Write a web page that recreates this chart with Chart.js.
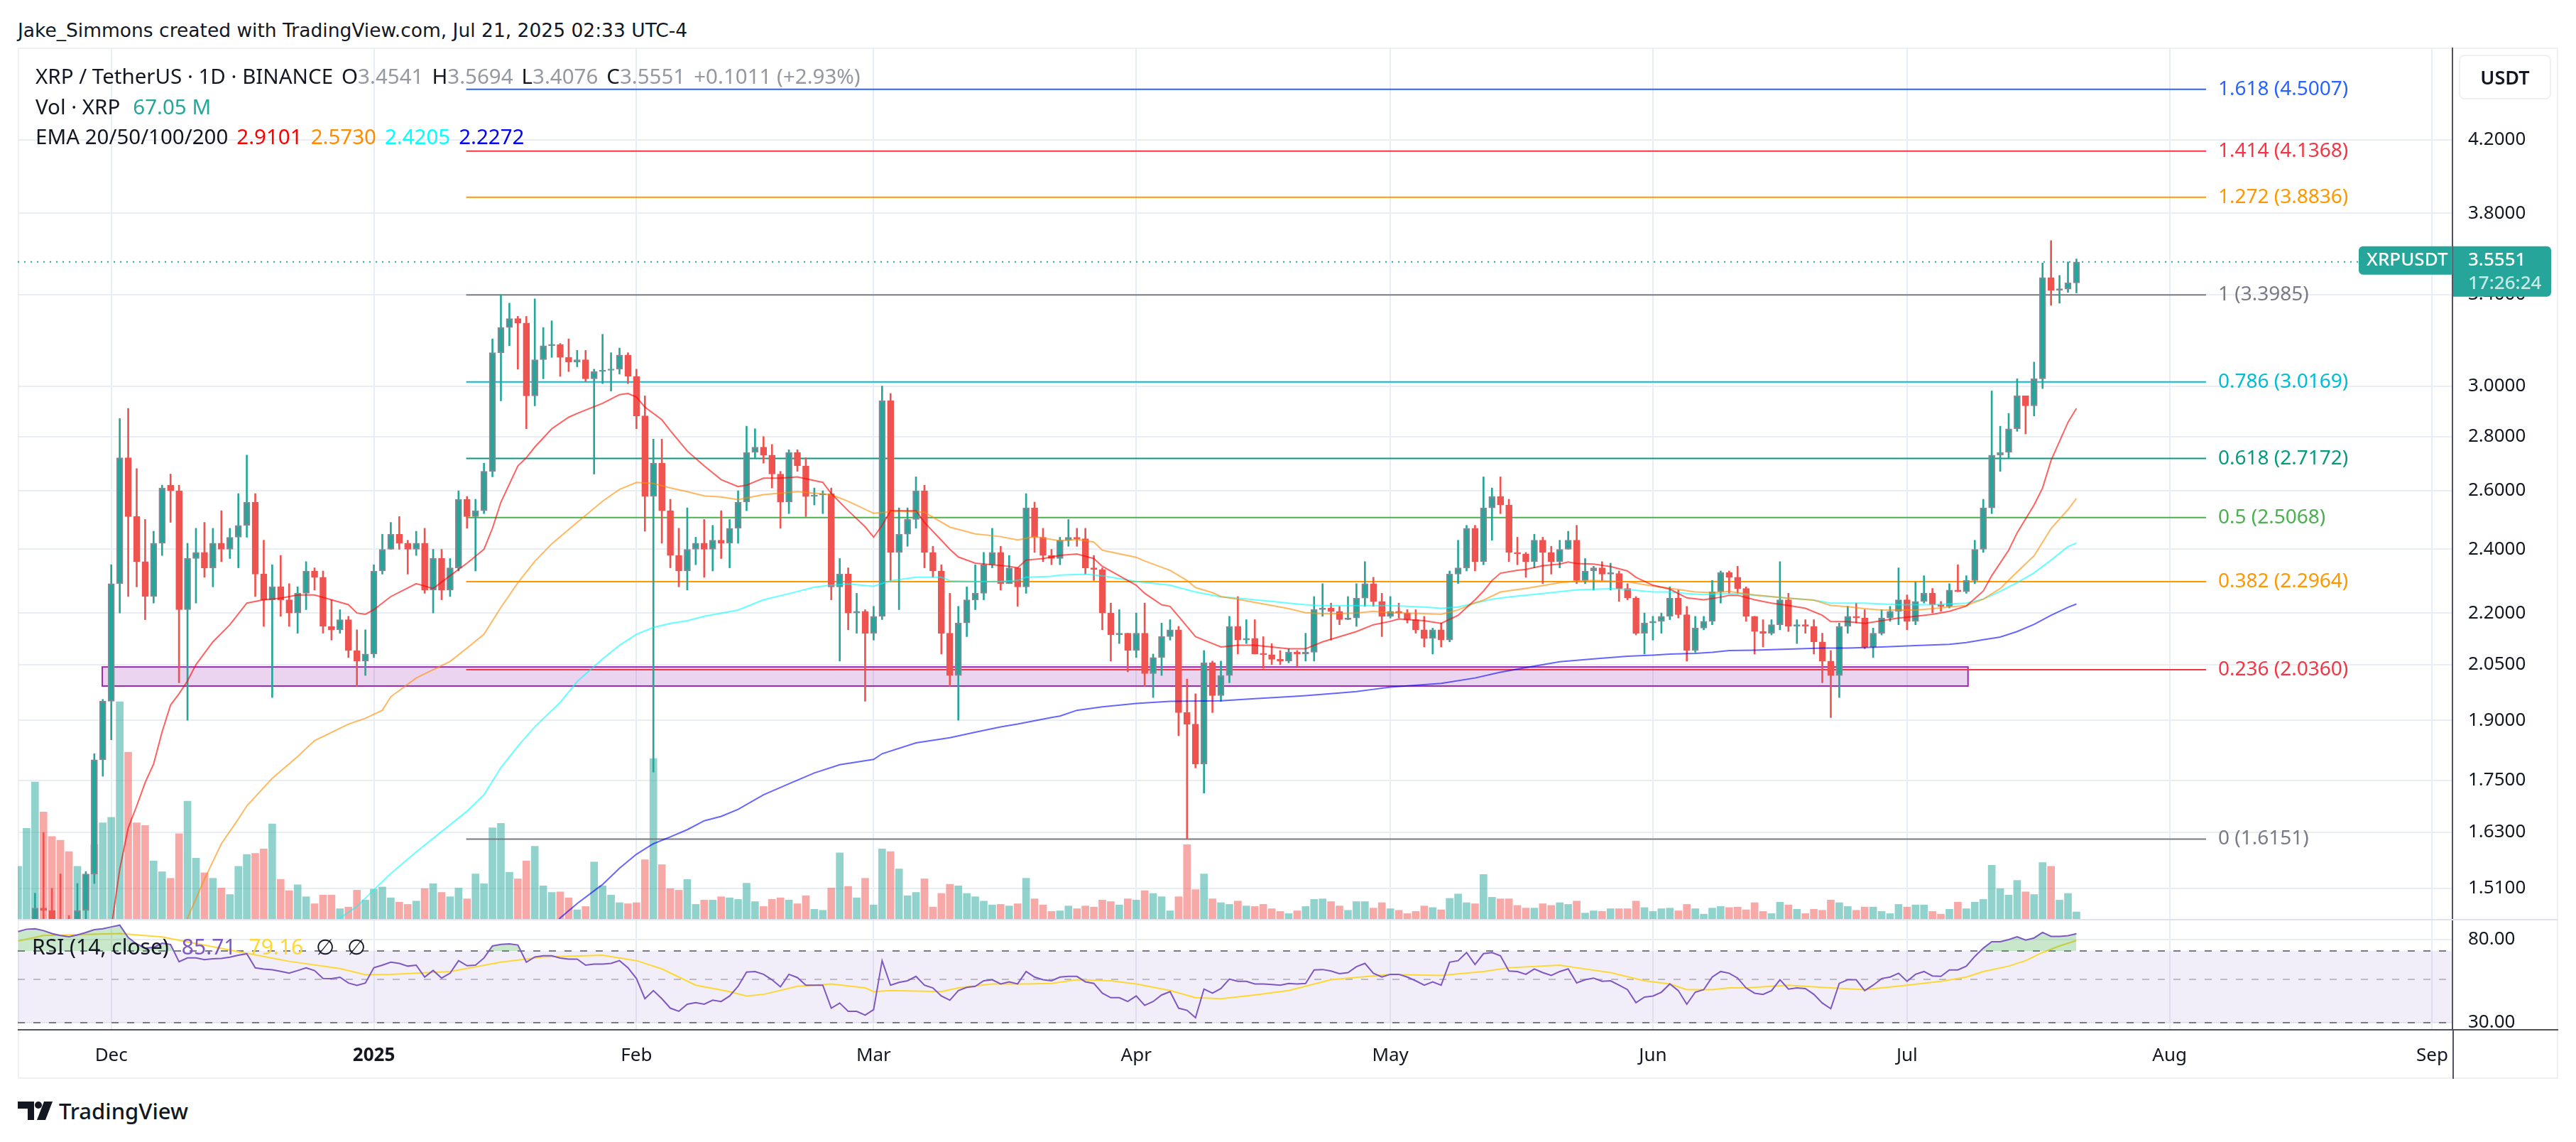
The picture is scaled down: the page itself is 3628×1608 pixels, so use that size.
<!DOCTYPE html>
<html>
<head>
<meta charset="utf-8">
<title>XRP / TetherUS 1D</title>
<script src="https://cdn.jsdelivr.net/npm/chart.js@4.4.1/dist/chart.umd.min.js"></script>
<style>
  html, body { margin: 0; padding: 0; background: #fff; }
  body { position: relative; width: 3628px; height: 1608px; overflow: hidden; font-family: "Noto Sans", sans-serif; color: #131722; }
  canvas, .abs { position: absolute; }
  .frame { left: 25px; top: 67px; width: 3574px; height: 1448px; border: 2px solid #eef0f3; }
  .row { left: 50px; font-size: 29.5px; line-height: 38px; white-space: nowrap; color: #131722; }
  .row .v { margin-left: 12px; }
  .g { color: #9598a1; }
  .credit { left: 25px; top: 24px; font-family: "DejaVu Sans", sans-serif; font-size: 26.5px; line-height: 38px; white-space: nowrap; }
  .usdt { left: 3463px; top: 77px; width: 126px; height: 59px; border: 2px solid #eef0f3; border-radius: 8px;
          font-size: 27px; font-weight: 600; line-height: 59px; text-align: center; }
</style>
</head>
<body>
<div class="abs frame"></div>
<canvas id="price" width="3578" height="1227" style="left:25px;top:67px"></canvas>
<canvas id="rsi" width="3578" height="225" style="left:25px;top:1294px"></canvas>

<div class="abs credit">Jake_Simmons created with TradingView.com, Jul 21, 2025 02:33 UTC-4</div>
<div class="abs row" style="top:88px">XRP / TetherUS · 1D · BINANCE<span class="v">O<span class="g">3.4541</span></span><span class="v">H<span class="g">3.5694</span></span><span class="v">L<span class="g">3.4076</span></span><span class="v">C<span class="g">3.5551</span></span><span class="v g">+0.1011 (+2.93%)</span></div>
<div class="abs row" style="top:131px">Vol · XRP<span class="v" style="color:#26a69a;margin-left:18px">67.05 M</span></div>
<div class="abs row" style="top:173px">EMA 20/50/100/200<span class="v" style="color:#ff0000">2.9101</span><span class="v" style="color:#ff8c00">2.5730</span><span class="v" style="color:#00ffff">2.4205</span><span class="v" style="color:#0000ff">2.2272</span></div>
<div class="abs row" style="left:45px;top:1314px;font-size:30px">RSI (14, close)<span class="v" style="color:#7e57c2;margin-left:18px">85.71</span><span class="v" style="color:#fdd835;margin-left:18px">79.16</span><span class="v" style="margin-left:18px">∅</span><span class="v" style="margin-left:18px">∅</span></div>
<div class="abs usdt">USDT</div>

<svg class="abs" style="left:25px;top:1551px" width="50" height="26" viewBox="0 0 50 26">
  <path d="M0 0h23v26h-9v-16h-14z" fill="#131722"/>
  <circle cx="29" cy="5" r="5" fill="#131722"/>
  <path d="M37 0h12l-10 26h-12z" fill="#131722"/>
</svg>
<div class="abs" style="left:83px;top:1544px;font-size:31px;font-weight:500;line-height:40px;color:#131722">TradingView</div>

<script>
// day index: 0 = Dec 1, 2024; first candle is Nov 20, 2024
const firstDay = -11;
const xMin = -11.04;
const xMax = 276.39;

// daily candles [open, high, low, close]
const ohlc = [
  [1.10,1.17,1.05,1.12],[1.12,1.30,1.10,1.27],[1.27,1.50,1.25,1.47],[1.47,1.63,1.40,1.465],[1.465,1.51,1.40,1.43],
  [1.43,1.54,1.38,1.41],[1.41,1.455,1.33,1.40],[1.40,1.52,1.39,1.465],[1.465,1.545,1.43,1.54],[1.54,1.815,1.52,1.80],
  [1.80,1.955,1.76,1.95],[1.95,2.35,1.85,2.29],[2.29,2.87,2.20,2.72],[2.72,2.91,2.25,2.51],[2.51,2.68,2.28,2.36],
  [2.36,2.50,2.18,2.25],[2.25,2.46,2.23,2.42],[2.42,2.62,2.38,2.61],[2.62,2.66,2.49,2.60],[2.60,2.62,2.00,2.21],
  [2.21,2.42,1.90,2.37],[2.37,2.47,2.23,2.39],[2.39,2.49,2.31,2.34],[2.34,2.47,2.28,2.42],[2.42,2.53,2.36,2.40],
  [2.40,2.47,2.37,2.44],[2.44,2.59,2.34,2.48],[2.48,2.73,2.44,2.56],[2.56,2.59,2.25,2.32],[2.32,2.43,2.16,2.24],
  [2.24,2.35,1.96,2.28],[2.28,2.38,2.19,2.24],[2.24,2.29,2.16,2.20],[2.20,2.28,2.14,2.26],[2.26,2.36,2.21,2.33],
  [2.33,2.34,2.27,2.31],[2.31,2.33,2.14,2.16],[2.16,2.24,2.12,2.15],[2.15,2.21,2.14,2.18],[2.18,2.19,2.07,2.09],
  [2.09,2.15,1.99,2.06],[2.06,2.15,2.02,2.08],[2.08,2.35,2.07,2.33],[2.33,2.45,2.32,2.40],[2.40,2.49,2.40,2.45],
  [2.45,2.51,2.40,2.42],[2.42,2.43,2.32,2.40],[2.40,2.46,2.38,2.42],[2.42,2.47,2.26,2.27],[2.27,2.40,2.20,2.37],
  [2.37,2.40,2.24,2.27],[2.27,2.37,2.25,2.34],[2.34,2.60,2.33,2.57],[2.57,2.58,2.47,2.51],[2.51,2.57,2.33,2.53],
  [2.53,2.70,2.52,2.67],[2.67,3.20,2.65,3.14],[3.14,3.40,2.94,3.25],[3.25,3.36,3.17,3.29],[3.29,3.30,3.07,3.27],
  [3.27,3.30,2.83,2.96],[2.96,3.38,2.92,3.11],[3.11,3.25,3.03,3.17],[3.17,3.28,3.12,3.175],[3.175,3.18,3.04,3.12],
  [3.12,3.20,3.06,3.10],[3.10,3.15,3.08,3.11],[3.11,3.15,3.02,3.03],[3.03,3.07,2.66,3.06],[3.06,3.22,3.01,3.065],
  [3.065,3.14,2.98,3.07],[3.07,3.16,3.05,3.13],[3.13,3.14,3.01,3.04],[3.04,3.07,2.83,2.88],[2.88,2.96,2.46,2.58],
  [2.58,2.79,1.77,2.70],[2.70,2.79,2.42,2.53],[2.53,2.57,2.34,2.38],[2.38,2.47,2.28,2.33],[2.33,2.54,2.27,2.40],
  [2.40,2.44,2.35,2.42],[2.42,2.50,2.31,2.40],[2.40,2.48,2.33,2.43],[2.43,2.53,2.37,2.42],[2.42,2.50,2.34,2.47],
  [2.47,2.60,2.42,2.56],[2.56,2.84,2.53,2.74],[2.74,2.83,2.72,2.76],[2.76,2.80,2.70,2.73],[2.73,2.77,2.61,2.66],
  [2.66,2.67,2.47,2.56],[2.56,2.75,2.52,2.74],[2.74,2.75,2.67,2.69],[2.69,2.72,2.51,2.58],[2.58,2.61,2.55,2.585],
  [2.585,2.60,2.52,2.59],[2.59,2.61,2.24,2.28],[2.28,2.37,2.06,2.32],[2.32,2.34,2.15,2.20],[2.20,2.26,2.14,2.205],
  [2.205,2.21,1.95,2.14],[2.14,2.22,2.12,2.19],[2.19,3.00,2.18,2.94],[2.94,2.97,2.30,2.39],[2.39,2.54,2.21,2.45],
  [2.45,2.54,2.41,2.50],[2.50,2.65,2.47,2.60],[2.60,2.62,2.34,2.39],[2.39,2.41,2.31,2.33],[2.33,2.35,2.08,2.14],
  [2.14,2.26,1.99,2.02],[2.02,2.22,1.90,2.17],[2.17,2.28,2.13,2.24],[2.24,2.35,2.21,2.26],[2.26,2.39,2.24,2.35],
  [2.35,2.47,2.34,2.39],[2.39,2.41,2.27,2.29],[2.29,2.38,2.29,2.34],[2.34,2.34,2.22,2.28],[2.28,2.59,2.26,2.54],
  [2.54,2.56,2.39,2.44],[2.44,2.47,2.36,2.38],[2.38,2.40,2.35,2.37],[2.37,2.44,2.35,2.43],[2.43,2.50,2.41,2.44],
  [2.44,2.47,2.41,2.435],[2.435,2.47,2.32,2.34],[2.34,2.38,2.30,2.335],[2.335,2.34,2.15,2.20],[2.20,2.23,2.06,2.135],
  [2.135,2.21,2.11,2.14],[2.14,2.14,2.03,2.09],[2.09,2.20,2.07,2.14],[2.14,2.23,1.99,2.025],[2.025,2.08,1.96,2.07],
  [2.07,2.17,2.02,2.13],[2.13,2.18,2.12,2.15],[2.15,2.16,1.86,1.92],[1.92,2.01,1.615,1.89],[1.89,1.97,1.78,1.79],
  [1.79,2.09,1.72,2.055],[2.055,2.06,1.92,1.965],[1.965,2.06,1.95,2.02],[2.02,2.19,2.00,2.16],[2.16,2.25,2.08,2.12],
  [2.12,2.18,2.11,2.125],[2.125,2.18,2.08,2.08],[2.08,2.13,2.04,2.078],[2.078,2.11,2.05,2.065],[2.065,2.09,2.05,2.06],
  [2.06,2.095,2.055,2.085],[2.085,2.09,2.045,2.08],[2.08,2.14,2.06,2.085],[2.085,2.25,2.06,2.21],[2.21,2.29,2.19,2.215],
  [2.215,2.23,2.12,2.205],[2.205,2.22,2.165,2.18],[2.18,2.25,2.18,2.185],[2.185,2.29,2.16,2.245],[2.245,2.36,2.22,2.29],
  [2.29,2.31,2.22,2.235],[2.235,2.26,2.13,2.19],[2.19,2.25,2.185,2.205],[2.205,2.23,2.185,2.20],[2.20,2.21,2.17,2.18],
  [2.18,2.21,2.14,2.15],[2.15,2.19,2.10,2.125],[2.125,2.155,2.08,2.15],[2.15,2.17,2.10,2.12],[2.12,2.33,2.115,2.32],
  [2.32,2.43,2.29,2.34],[2.34,2.48,2.33,2.47],[2.47,2.48,2.33,2.36],[2.36,2.65,2.35,2.54],[2.54,2.61,2.43,2.58],
  [2.58,2.65,2.52,2.55],[2.55,2.57,2.36,2.39],[2.39,2.44,2.35,2.385],[2.385,2.39,2.31,2.36],[2.36,2.45,2.34,2.43],
  [2.43,2.44,2.29,2.39],[2.39,2.41,2.32,2.36],[2.36,2.43,2.34,2.40],[2.40,2.46,2.40,2.43],[2.43,2.48,2.29,2.30],
  [2.30,2.37,2.29,2.33],[2.33,2.345,2.27,2.34],[2.34,2.36,2.30,2.32],[2.32,2.355,2.27,2.322],[2.322,2.33,2.235,2.275],
  [2.275,2.29,2.24,2.245],[2.245,2.25,2.135,2.14],[2.14,2.20,2.08,2.17],[2.17,2.19,2.12,2.175],[2.175,2.20,2.14,2.19],
  [2.19,2.28,2.18,2.245],[2.245,2.27,2.185,2.195],[2.195,2.22,2.06,2.09],[2.09,2.19,2.085,2.155],[2.155,2.19,2.15,2.175],
  [2.175,2.30,2.165,2.265],[2.265,2.33,2.23,2.325],[2.325,2.33,2.26,2.31],[2.31,2.345,2.26,2.275],[2.275,2.28,2.175,2.19],
  [2.19,2.19,2.08,2.145],[2.145,2.18,2.10,2.14],[2.14,2.18,2.135,2.165],[2.165,2.36,2.15,2.24],[2.24,2.26,2.145,2.16],
  [2.16,2.18,2.11,2.165],[2.165,2.18,2.14,2.16],[2.16,2.18,2.08,2.115],[2.115,2.14,2.00,2.06],[2.06,2.09,1.907,2.02],
  [2.02,2.17,1.96,2.16],[2.16,2.22,2.14,2.19],[2.19,2.23,2.17,2.185],[2.185,2.21,2.095,2.10],[2.10,2.155,2.07,2.14],
  [2.14,2.21,2.135,2.185],[2.185,2.22,2.175,2.205],[2.205,2.34,2.165,2.24],[2.24,2.255,2.15,2.175],[2.175,2.295,2.165,2.235],
  [2.235,2.315,2.23,2.26],[2.26,2.275,2.20,2.225],[2.225,2.235,2.205,2.22],[2.22,2.29,2.215,2.27],[2.27,2.35,2.265,2.265],
  [2.265,2.315,2.26,2.30],[2.30,2.43,2.29,2.40],[2.40,2.57,2.39,2.54],[2.54,2.98,2.52,2.73],[2.73,2.84,2.67,2.74],
  [2.74,2.89,2.72,2.83],[2.83,3.03,2.82,2.96],[2.96,2.96,2.81,2.92],[2.92,3.10,2.88,3.03],[3.03,3.55,2.99,3.48],
  [3.48,3.66,3.35,3.42],[3.42,3.49,3.36,3.425],[3.425,3.555,3.41,3.4541],[3.4541,3.5694,3.4076,3.5551]
];

// daily volume, millions of XRP
const volumes = [
  497,856,1292,1010,779,743,636,497,420,702,
  907,959,2050,1574,907,882,548,446,384,805,
  1112,574,436,384,292,231,497,610,620,661,
  897,374,267,323,210,144,226,226,97,113,
  272,179,282,302,200,159,138,169,287,333,
  251,210,292,190,425,333,861,902,441,379,
  548,687,313,251,256,200,87,118,538,313,
  226,154,144,154,559,1512,513,287,272,374,
  138,179,179,210,200,185,338,164,118,185,
  200,179,144,220,92,82,292,625,308,200,
  384,133,661,636,472,220,251,379,113,241,
  328,313,241,210,169,133,138,123,144,384,
  190,133,72,77,123,97,123,113,179,164,
  133,190,179,267,241,210,77,210,702,277,
  425,190,154,138,169,123,118,138,97,72,
  51,77,118,185,190,164,123,82,164,164,
  103,154,97,82,51,72,123,108,87,195,
  236,154,144,420,205,190,190,128,103,103,
  144,128,154,138,169,56,77,72,97,97,
  97,169,108,72,97,103,77,138,97,46,
  103,118,108,113,87,154,72,51,159,133,
  92,51,92,82,179,154,118,82,113,113,
  72,51,138,113,133,133,72,46,92,159,
  97,159,185,507,287,226,364,256,231,533,
  497,179,241,67.05
];

// RSI(14) per day
const rsiValues = [
  88,90.5,90.9,89,86,84,82.8,84.5,87,90,
  91,93,94.9,82,76,72.4,73,76.7,75.5,61.6,
  64.5,64.5,63.2,63.8,64.1,65,66.5,67.7,57.3,56.5,
  56,55,53.9,55.5,57.3,55.5,50.6,50.5,51.3,47.9,
  46.6,47.9,57.4,59.2,61.3,60.4,58.5,59.2,51.4,55.6,
  50.8,53.8,62.4,58.8,59.2,64.4,74.2,75.6,76.1,75.1,
  61.3,65.2,66.1,66.1,64.4,63.6,63.6,59.2,59.9,59.9,
  60.4,62.4,57.4,50.5,39.8,43.8,39.8,35.6,34.3,37.3,
  38.0,37.3,39.1,38.5,41.1,46.1,54.5,54.9,53.1,49.8,
  45.8,53.1,51.1,46.7,46.7,46.7,35.6,37.8,34.3,34.3,
  32.8,35.0,62.4,46.7,48.3,49.2,51.8,46.7,45.2,41.1,
  39.1,43.8,45.5,46.1,49.2,49.8,47.4,48.6,47.4,54.9,
  51.4,49.8,49.2,51.4,51.8,51.8,48.6,47.7,42.5,40.3,
  40.3,38.5,41.1,36.8,38.5,41.6,43.3,35.6,34.7,31.8,
  44.6,42.5,44.9,50.2,48.9,48.9,47.4,47.4,47.1,46.7,
  47.7,47.4,47.7,55.9,56.2,55.2,53.5,54.2,58.1,60.4,
  53.8,51.4,53.1,53.1,51.4,49.2,46.7,48.6,46.7,61.3,
  62.4,68.7,59.6,67.8,68.7,66.1,55.2,54.9,53.1,56.6,
  54.2,52.4,54.9,56.6,48.0,49.8,50.8,48.9,49.2,46.7,
  44.3,38.0,40.6,41.1,43.0,47.4,43.8,37.3,43.0,44.3,
  51.4,54.9,53.8,50.8,45.2,42.5,41.9,43.8,49.8,44.6,
  45.2,44.9,41.9,37.8,35.4,47.7,49.8,49.8,43.8,46.7,
  50.5,51.4,53.8,48.9,53.1,54.9,52.1,51.8,55.9,55.9,
  58.5,65.6,72.3,78.1,78.1,80.1,82.7,79.6,81.6,87.1,
  83.2,83.2,83.8,85.71
];

// RSI-based moving average, [day, value]
const rsiMa = [
  [-11,78.7],[-8,84],[1,85.9],[6,82.6],[15,69.4],[21,61.9],[27,56.9],[30,52.8],[33,53.1],[40,54.9],
  [46,61.3],[51,65.2],[58,66.5],[62,62.4],[65,56.6],[69,46.7],[73,43.3],[75,41.1],[77,41.9],[81,46.1],
  [85,47.4],[89,45.2],[90,43.3],[92,43.8],[98,43.3],[100,45.2],[104,47.4],[108,47.4],[111,47.7],[114,49.8],
  [118,49.2],[121,47.4],[125,43.8],[128,40.3],[131,39.8],[135,41.6],[139,43.8],[144,49.8],[151,53.1],[157,52.4],
  [162,54.9],[165,57.4],[171,59.2],[173,57.4],[177,54.2],[181,49.2],[184,47.4],[186,44.3],[189,44.3],[191,45.2],
  [193,45.2],[198,46.7],[203,45.2],[207,44.3],[212,46.7],[216,48.9],[219,51.4],[221,54.9],[224,58.5],[226,62.4],
  [228,68.7],[230,74.2],[232,79.16]
];

// EMA lines, [day, value]
const ema20 = [
  [-1,1.36],[0,1.43],[1,1.55],[2,1.64],[3,1.69],[4,1.745],[5,1.79],[6,1.87],[7,1.94],[8,1.97],[9,2.005],[10,2.05],
  [12,2.115],[14,2.165],[16,2.23],[18,2.24],[20,2.245],[22,2.255],[24,2.255],[26,2.24],[28,2.225],[29,2.20],[30,2.196],
  [31,2.21],[33,2.25],[36,2.29],[38,2.275],[40,2.315],[42,2.355],[44,2.40],[45,2.47],[46,2.56],[48,2.69],[49,2.72],
  [50,2.76],[52,2.83],[54,2.875],[55,2.89],[58,2.93],[60,2.965],[61,2.97],[62,2.955],[63,2.915],[65,2.865],[66,2.823],
  [68,2.745],[70,2.69],[72,2.64],[74,2.615],[75,2.62],[77,2.645],[79,2.645],[81,2.65],[84,2.63],[85,2.59],[87,2.53],
  [89,2.475],[90,2.44],[91,2.48],[92,2.53],[95,2.53],[96,2.49],[98,2.43],[99,2.40],[100,2.375],[102,2.355],[104,2.35],
  [106,2.345],[107,2.34],[108,2.365],[110,2.37],[112,2.38],[114,2.385],[116,2.37],[117,2.345],[120,2.30],[121,2.285],
  [122,2.26],[124,2.225],[125,2.22],[126,2.19],[128,2.13],[130,2.11],[131,2.10],[133,2.105],[135,2.105],[137,2.10],
  [139,2.095],[141,2.095],[142,2.105],[143,2.115],[145,2.13],[147,2.145],[149,2.165],[151,2.175],[152,2.182],[155,2.177],
  [157,2.169],[159,2.193],[161,2.24],[162,2.267],[163,2.30],[164,2.323],[166,2.332],[167,2.335],[169,2.347],[171,2.352],
  [172,2.359],[173,2.354],[175,2.352],[177,2.344],[179,2.33],[180,2.31],[182,2.285],[184,2.273],[186,2.246],[188,2.24],
  [190,2.248],[191,2.254],[192,2.254],[194,2.24],[196,2.23],[198,2.223],[200,2.214],[202,2.193],[203,2.174],[205,2.174],
  [207,2.169],[209,2.177],[211,2.185],[213,2.19],[215,2.196],[217,2.205],[219,2.221],[221,2.267],[222,2.315],[224,2.397],
  [225,2.455],[227,2.55],[228,2.61],[229,2.71],[231,2.855],[232,2.9101]
];
const ema50 = [
  [8,1.40],[9,1.45],[11,1.529],[13,1.605],[15,1.66],[16,1.69],[19,1.755],[22,1.808],[24,1.848],[28,1.89],[30,1.905],
  [32,1.926],[33,1.962],[36,2.013],[40,2.059],[42,2.097],[44,2.137],[46,2.217],[48,2.293],[50,2.361],[52,2.418],
  [55,2.49],[58,2.563],[60,2.605],[62,2.63],[64,2.626],[66,2.61],[68,2.597],[70,2.582],[72,2.578],[74,2.569],
  [77,2.586],[81,2.597],[85,2.586],[87,2.563],[90,2.521],[93,2.529],[96,2.525],[99,2.474],[102,2.451],[105,2.442],
  [107,2.431],[109,2.442],[111,2.433],[112,2.428],[114,2.433],[116,2.424],[117,2.397],[121,2.374],[122,2.362],
  [125,2.332],[127,2.30],[128,2.278],[130,2.262],[131,2.25],[133,2.242],[135,2.232],[137,2.223],[139,2.213],
  [141,2.201],[143,2.198],[145,2.198],[147,2.20],[149,2.205],[151,2.201],[155,2.198],[157,2.196],[159,2.209],
  [161,2.231],[162,2.239],[164,2.264],[167,2.275],[169,2.284],[171,2.293],[173,2.298],[175,2.30],[177,2.298],
  [179,2.296],[181,2.287],[183,2.279],[185,2.272],[187,2.264],[189,2.262],[191,2.266],[192,2.262],[194,2.255],
  [198,2.245],[201,2.239],[203,2.223],[205,2.219],[207,2.213],[209,2.209],[213,2.209],[215,2.213],[217,2.218],
  [219,2.223],[221,2.242],[223,2.275],[225,2.327],[227,2.379],[229,2.469],[231,2.534],[232,2.573]
];
const ema100 = [
  [26,1.42],[27,1.45],[29,1.473],[31,1.507],[33,1.541],[36,1.587],[40,1.647],[42,1.678],[44,1.716],[46,1.781],
  [48,1.834],[50,1.883],[53,1.947],[55,2.003],[58,2.066],[60,2.105],[62,2.137],[64,2.157],[66,2.169],[68,2.177],
  [70,2.19],[74,2.209],[77,2.24],[80,2.259],[83,2.279],[85,2.285],[87,2.289],[90,2.282],[92,2.299],[95,2.31],
  [98,2.31],[99,2.299],[102,2.297],[105,2.297],[107,2.30],[108,2.31],[111,2.313],[112,2.317],[115,2.32],[117,2.315],
  [119,2.306],[121,2.297],[125,2.285],[128,2.264],[131,2.249],[133,2.245],[137,2.235],[139,2.23],[141,2.225],
  [143,2.222],[147,2.222],[151,2.222],[155,2.218],[157,2.214],[159,2.218],[161,2.23],[163,2.242],[165,2.249],
  [169,2.259],[173,2.271],[177,2.274],[179,2.272],[182,2.264],[184,2.264],[186,2.259],[188,2.256],[190,2.259],
  [192,2.259],[194,2.254],[198,2.245],[201,2.239],[203,2.23],[207,2.23],[211,2.225],[215,2.225],[219,2.23],
  [221,2.242],[223,2.266],[225,2.293],[227,2.324],[229,2.365],[231,2.409],[232,2.4205]
];
const ema200 = [
  [52,1.43],[53,1.45],[55,1.479],[58,1.518],[60,1.552],[62,1.582],[64,1.605],[66,1.62],[68,1.636],[70,1.656],
  [72,1.666],[74,1.682],[77,1.716],[80,1.742],[83,1.768],[86,1.788],[90,1.801],[91,1.815],[95,1.842],[99,1.855],
  [102,1.869],[105,1.883],[107,1.89],[111,1.907],[112,1.911],[114,1.926],[117,1.935],[121,1.944],[125,1.95],
  [131,1.951],[135,1.957],[139,1.962],[141,1.965],[145,1.972],[147,1.976],[149,1.982],[151,1.988],[155,1.995],
  [157,1.998],[161,2.013],[164,2.029],[167,2.042],[171,2.058],[175,2.066],[179,2.074],[182,2.077],[184,2.08],
  [187,2.082],[189,2.085],[191,2.09],[194,2.091],[198,2.094],[202,2.097],[205,2.097],[209,2.10],[213,2.104],
  [217,2.108],[219,2.113],[221,2.121],[223,2.129],[225,2.145],[227,2.166],[229,2.193],[231,2.217],[232,2.2272]
];

const monthTicks = [0, 31, 62, 90, 121, 151, 182, 212, 243, 274];
const monthLabels = ['Dec', '2025', 'Feb', 'Mar', 'Apr', 'May', 'Jun', 'Jul', 'Aug', 'Sep'];
const priceTicks = [4.2, 3.8, 3.4, 3.0, 2.8, 2.6, 2.4, 2.2, 2.05, 1.9, 1.75, 1.63, 1.51];
const rsiTicks = [80, 30];

const fibLevels = ['1.618', '1.414', '1.272', '1', '0.786', '0.618', '0.5', '0.382', '0.236', '0'];
const fibPrices = [4.5007, 4.1368, 3.8836, 3.3985, 3.0169, 2.7172, 2.5068, 2.2964, 2.0360, 1.6151];
const fibColors = ['#2962ff', '#f23645', '#ff9800', '#787b86', '#00bcd4', '#089981', '#4caf50', '#ff9800', '#f23645', '#787b86'];
const fibSpan = [41.9, 247.3];

const zoneSpan = [-1.06, 219.2];
const zonePrices = [1.991, 2.0435];
const lastPrice = 3.5551;

Chart.defaults.font.family = '"Noto Sans", sans-serif';
Chart.defaults.color = '#131722';

const upColor = '#26a69a';
const downColor = '#ef5350';
const gridColor = '#e9eef4';
const days = ohlc.map((c, i) => firstDay + i);
const isUp = ohlc.map(c => c[3] >= c[0]);
const pts = arr => arr.map(p => ({ x: p[0], y: p[1] }));

function fixAxis(width) {
  return (scale) => {
    scale.width = width;
    scale.paddingTop = 0;
    scale.paddingBottom = 0;
  };
}

function emaLine(data, color) {
  return { type: 'line', data: pts(data), borderColor: color, borderWidth: 2, pointRadius: 0,
           tension: 0, yAxisID: 'y', order: 0 };
}

const fibSets = fibPrices.map((p, i) => ({
  type: 'line',
  data: [{ x: fibSpan[0], y: p }, { x: fibSpan[1], y: p }],
  borderColor: fibColors[i], borderWidth: 2, pointRadius: 0, yAxisID: 'y', order: 3
}));

const priceOverlay = {
  id: 'priceOverlay',
  beforeDatasetsDraw(chart) {
    const { ctx, scales: { x, y } } = chart;
    const x0 = x.getPixelForValue(zoneSpan[0]);
    const x1 = x.getPixelForValue(zoneSpan[1]);
    const y0 = y.getPixelForValue(zonePrices[1]);
    const y1 = y.getPixelForValue(zonePrices[0]);
    ctx.save();
    ctx.fillStyle = 'rgba(156,39,176,0.2)';
    ctx.fillRect(x0, y0, x1 - x0, y1 - y0);
    ctx.strokeStyle = '#9c27b0';
    ctx.lineWidth = 2;
    ctx.strokeRect(x0, y0, x1 - x0, y1 - y0);
    ctx.restore();
  },
  afterDatasetsDraw(chart) {
    const { ctx, chartArea: a, scales: { x, y } } = chart;
    const yc = y.getPixelForValue(lastPrice);
    ctx.save();
    // last price dotted line
    ctx.strokeStyle = upColor;
    ctx.lineWidth = 2;
    ctx.setLineDash([2, 7]);
    ctx.beginPath();
    ctx.moveTo(a.left, yc);
    ctx.lineTo(a.right, yc);
    ctx.stroke();
    ctx.setLineDash([]);

    // fib labels
    ctx.font = '28px "Noto Sans"';
    ctx.textBaseline = 'middle';
    ctx.textAlign = 'left';
    const lx = x.getPixelForValue(fibSpan[1]) + 17;
    fibPrices.forEach((p, i) => {
      ctx.fillStyle = fibColors[i];
      ctx.fillText(fibLevels[i] + ' (' + p.toFixed(4) + ')', lx, y.getPixelForValue(p));
    });

    // symbol + price label
    ctx.fillStyle = upColor;
    ctx.beginPath();
    ctx.roundRect(a.right - 132, yc - 22, 132, 40, [6, 0, 0, 6]);
    ctx.fill();
    ctx.beginPath();
    ctx.roundRect(a.right + 1, yc - 22, 138, 71, [0, 6, 6, 0]);
    ctx.fill();
    ctx.font = '500 26px "Noto Sans"';
    ctx.fillStyle = '#ffffff';
    ctx.fillText('XRPUSDT', a.right - 121, yc - 2);
    ctx.fillText(lastPrice.toFixed(4), a.right + 22, yc - 2);
    ctx.fillStyle = 'rgba(255,255,255,0.75)';
    ctx.fillText('17:26:24', a.right + 22, yc + 31);
    ctx.restore();
  }
};

new Chart(document.getElementById('price'), {
  type: 'bar',
  data: {
    datasets: [
      emaLine(ema20, 'rgba(255,0,0,0.62)'),
      emaLine(ema50, 'rgba(255,140,0,0.62)'),
      emaLine(ema100, 'rgba(0,255,255,0.6)'),
      emaLine(ema200, 'rgba(0,0,255,0.6)'),
      {
        label: 'body',
        data: ohlc.map((c, i) => ({ x: days[i], y: [c[0], c[3]] })),
        backgroundColor: isUp.map(u => u ? upColor : downColor),
        borderColor: isUp.map(u => u ? '#858892' : downColor),
        borderWidth: 2, borderSkipped: false, barThickness: 9, minBarLength: 2,
        grouped: false, yAxisID: 'y', order: 1
      },
      {
        label: 'wick',
        data: ohlc.map((c, i) => ({ x: days[i], y: [c[2], c[1]] })),
        backgroundColor: isUp.map(u => u ? upColor : downColor),
        barThickness: 2, grouped: false, yAxisID: 'y', order: 2
      },
      ...fibSets,
      {
        label: 'volume',
        data: volumes.map((v, i) => ({ x: days[i], y: v })),
        backgroundColor: isUp.map(u => u ? 'rgba(38,166,154,0.5)' : 'rgba(239,83,80,0.5)'),
        barThickness: 10, grouped: false, yAxisID: 'yVol', order: 5
      }
    ]
  },
  options: {
    responsive: false,
    devicePixelRatio: 1,
    animation: false,
    events: [],
    layout: { padding: 0 },
    plugins: { legend: { display: false }, tooltip: { enabled: false } },
    scales: {
      x: {
        type: 'linear', min: xMin, max: xMax, offset: false,
        afterBuildTicks: s => { s.ticks = monthTicks.map(v => ({ value: v })); },
        afterFit: s => { s.height = 0; },
        ticks: { display: false },
        grid: { color: gridColor, lineWidth: 2, drawTicks: false, offset: false },
        border: { display: false }
      },
      y: {
        type: 'logarithmic', position: 'right', min: 1.448, max: 4.765, beginAtZero: false,
        afterBuildTicks: s => { s.ticks = priceTicks.map(v => ({ value: v })); },
        afterFit: fixAxis(149),
        ticks: { callback: v => Number(v).toFixed(4), padding: 22, autoSkip: false, font: { size: 26 }, color: '#131722' },
        grid: { color: gridColor, lineWidth: 2, drawTicks: false },
        border: { display: true, color: '#50535e', width: 2 }
      },
      yVol: { type: 'linear', display: false, min: 0, max: 8221 }
    }
  },
  plugins: [priceOverlay]
});

const rsiOverlay = {
  id: 'rsiOverlay',
  beforeDatasetsDraw(chart) {
    const { ctx, chartArea: a, scales: { y } } = chart;
    const y70 = y.getPixelForValue(70);
    const y50 = y.getPixelForValue(50);
    const y30 = y.getPixelForValue(30);
    ctx.save();
    ctx.fillStyle = 'rgba(126,87,194,0.1)';
    ctx.fillRect(a.left, y70, a.right - a.left, y30 - y70);
    ctx.lineWidth = 2;
    ctx.setLineDash([10, 12]);
    ctx.strokeStyle = '#787b86';
    [y70, y30].forEach(yy => {
      ctx.beginPath(); ctx.moveTo(a.left, yy); ctx.lineTo(a.right, yy); ctx.stroke();
    });
    ctx.strokeStyle = 'rgba(120,123,134,0.45)';
    ctx.beginPath(); ctx.moveTo(a.left, y50); ctx.lineTo(a.right, y50); ctx.stroke();
    ctx.restore();
  },
  afterDraw(chart) {
    const { ctx, chartArea: a, width, height } = chart;
    ctx.save();
    ctx.strokeStyle = '#e0e3eb';
    ctx.lineWidth = 2;
    ctx.beginPath(); ctx.moveTo(0, a.top + 1); ctx.lineTo(width, a.top + 1); ctx.stroke();
    ctx.strokeStyle = '#50535e';
    ctx.beginPath(); ctx.moveTo(0, a.bottom); ctx.lineTo(width, a.bottom); ctx.stroke();
    ctx.beginPath(); ctx.moveTo(a.right + 1, a.bottom); ctx.lineTo(a.right + 1, height); ctx.stroke();
    ctx.restore();
  }
};

new Chart(document.getElementById('rsi'), {
  type: 'line',
  data: {
    datasets: [
      {
        label: 'RSI',
        data: rsiValues.map((v, i) => ({ x: firstDay + i, y: v })),
        borderColor: '#7e57c2', borderWidth: 2, pointRadius: 0, tension: 0,
        fill: { target: { value: 70 }, above: 'rgba(76,175,80,0.3)', below: 'rgba(0,0,0,0)' }
      },
      {
        label: 'RSI MA',
        data: pts(rsiMa),
        borderColor: '#fdd835', borderWidth: 2, pointRadius: 0, tension: 0, fill: false
      }
    ]
  },
  options: {
    responsive: false,
    devicePixelRatio: 1,
    animation: false,
    events: [],
    layout: { padding: 0 },
    plugins: { legend: { display: false }, tooltip: { enabled: false } },
    scales: {
      x: {
        type: 'linear', min: xMin, max: xMax, offset: false,
        afterBuildTicks: s => { s.ticks = monthTicks.map(v => ({ value: v })); },
        afterFit: s => { s.height = 69; },
        ticks: {
          callback: v => monthLabels[monthTicks.indexOf(v)],
          padding: 21, autoSkip: false, maxRotation: 0, color: '#131722',
          font: ctx => ({ size: 26, weight: ctx.tick && ctx.tick.value === 31 ? 'bold' : 'normal' })
        },
        grid: { color: gridColor, lineWidth: 2, drawTicks: false, offset: false },
        border: { display: false }
      },
      y: {
        type: 'logarithmic', position: 'right', min: 27.57, max: 102.1, beginAtZero: false,
        afterBuildTicks: s => { s.ticks = rsiTicks.map(v => ({ value: v })); },
        afterFit: fixAxis(149),
        ticks: { callback: v => Number(v).toFixed(2), padding: 22, autoSkip: false, font: { size: 26 }, color: '#131722' },
        grid: { color: gridColor, lineWidth: 2, drawTicks: false },
        border: { display: true, color: '#50535e', width: 2 }
      }
    }
  },
  plugins: [rsiOverlay]
});
</script>
</body>
</html>
